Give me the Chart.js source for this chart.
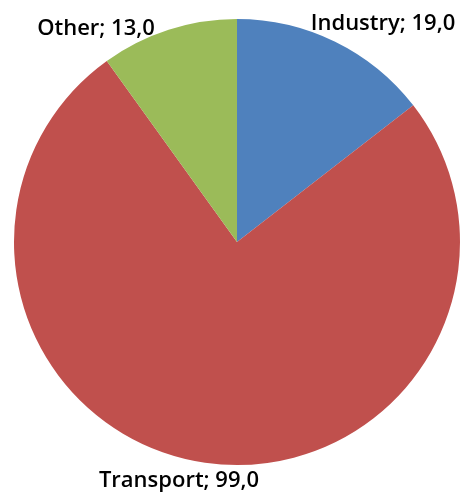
<!DOCTYPE html>
<html>
<head>
<meta charset="utf-8">
<script src="https://cdn.jsdelivr.net/npm/chart.js@4/dist/chart.umd.min.js"></script>
<style>
html,body{margin:0;padding:0;background:#fff;}
#wrap{width:461px;height:494px;position:relative;}
</style>
</head>
<body>
<div id="wrap"><canvas id="c" width="461" height="494"></canvas></div>
<script>
const categories = ["Industry", "Transport", "Other"];
const values = [19.0, 99.0, 13.0];
const colors = ["#4F81BD", "#C0504D", "#9BBB59"];
// label baseline offsets from pie centre (layout only)
const labelOffsets = [[146, -212], [-58, 245], [-141, -207]];

const labelPlugin = {
  id: 'pieLabels',
  afterDatasetsDraw(chart) {
    const ctx = chart.ctx;
    const meta = chart.getDatasetMeta(0);
    ctx.save();
    ctx.font = '600 22px "Open Sans", sans-serif';
    ctx.fillStyle = '#000';
    ctx.textAlign = 'center';
    ctx.textBaseline = 'alphabetic';
    meta.data.forEach((arc, i) => {
      const txt = categories[i] + '; ' + values[i].toFixed(1).replace('.', ',');
      ctx.fillText(txt, arc.x + labelOffsets[i][0], arc.y + labelOffsets[i][1]);
    });
    ctx.restore();
  }
};

new Chart(document.getElementById('c'), {
  type: 'pie',
  data: {
    labels: categories,
    datasets: [{ data: values, backgroundColor: colors, borderWidth: 0 }]
  },
  options: {
    responsive: false,
    animation: false,
    layout: { padding: { left: 14, right: 1, top: 19, bottom: 29 } },
    plugins: { legend: { display: false }, tooltip: { enabled: false } }
  },
  plugins: [labelPlugin]
});
</script>
</body>
</html>
